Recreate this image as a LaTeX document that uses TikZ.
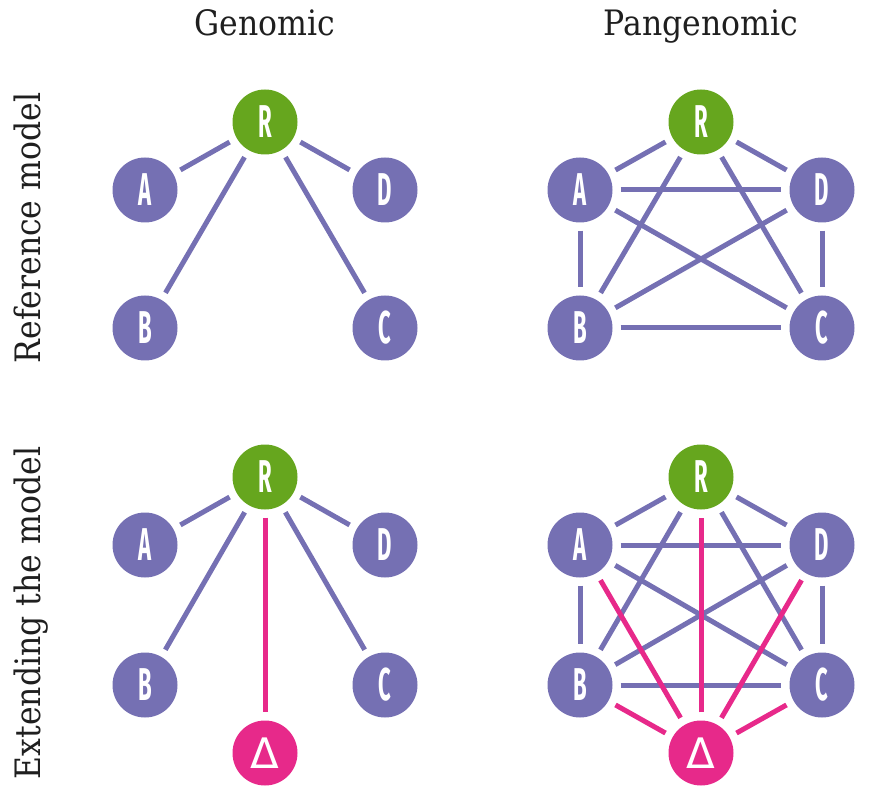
\documentclass[tikz,border=0pt]{standalone}
\usepackage{fontspec}
\setmainfont{DejaVu Serif}[FakeStretch=0.9]
\newfontfamily\lblfont[FakeStretch=0.48]{Fira Sans}
\newfontfamily\deltafont{DejaVu Sans}
\definecolor{lilac}{HTML}{7570B3}
\definecolor{leaf}{HTML}{66A61E}
\definecolor{rose}{HTML}{E7298A}

\begin{document}
\begin{tikzpicture}
[ x=1pt, y=-1pt
, heading/.style={font=\fontsize{35}{40}\selectfont, text=black!88, anchor=base}
, sample/.style={circle, fill=lilac, minimum size=65pt, inner sep=0pt, text=white, font=\lblfont\bfseries\fontsize{46}{46}\selectfont}
, reference/.style={sample, fill=leaf}
, delta/.style={sample, fill=rose, font=\deltafont\fontsize{42}{42}\selectfont}
, link/.style={line width=5pt, lilac, shorten <=8pt, shorten >=8pt}
, newlink/.style={link, rose}
]
\useasboundingbox (0,0) rectangle (870,799);

% Headings:
\node (genomic) [heading] at (265,36) {Genomic};
\node (pangenomic) [heading] at (701,36) {Pangenomic};
\node (refrow) [heading, rotate=90] at (40,228) {Reference model};
\node (extrow) [heading, rotate=90] at (40,613) {Extending the model};

% Top left: genomic reference
\node (R1) [reference] at (265,122) {R};
\node (A1) [sample] at (145,190) {A};
\node (D1) [sample] at (385,190) {D};
\node (B1) [sample] at (145,328) {B};
\node (C1) [sample] at (385,328) {C};
\draw [link] (R1) -- (A1);
\draw [link] (R1) -- (D1);
\draw [link] (R1) -- (B1);
\draw [link] (R1) -- (C1);

% Top right: pangenomic reference
\node (R2) [reference] at (701,122) {R};
\node (A2) [sample] at (580,190) {A};
\node (D2) [sample] at (822,190) {D};
\node (B2) [sample] at (580,328) {B};
\node (C2) [sample] at (822,328) {C};
\draw [link] (R2) -- (A2);
\draw [link] (R2) -- (D2);
\draw [link] (R2) -- (B2);
\draw [link] (R2) -- (C2);
\draw [link] (A2) -- (D2);
\draw [link] (A2) -- (B2);
\draw [link] (A2) -- (C2);
\draw [link] (D2) -- (B2);
\draw [link] (D2) -- (C2);
\draw [link] (B2) -- (C2);

% Bottom left: genomic, extended
\node (R3) [reference] at (265,477) {R};
\node (A3) [sample] at (145,545) {A};
\node (D3) [sample] at (385,545) {D};
\node (B3) [sample] at (145,685) {B};
\node (C3) [sample] at (385,685) {C};
\node (X3) [delta] at (265,753) {Δ};
\draw [link] (R3) -- (A3);
\draw [link] (R3) -- (D3);
\draw [link] (R3) -- (B3);
\draw [link] (R3) -- (C3);
\draw [newlink] (R3) -- (X3);

% Bottom right: pangenomic, extended
\node (R4) [reference] at (701,477) {R};
\node (A4) [sample] at (580,545) {A};
\node (D4) [sample] at (822,545) {D};
\node (B4) [sample] at (580,685) {B};
\node (C4) [sample] at (822,685) {C};
\node (X4) [delta] at (701,753) {Δ};
\draw [link] (R4) -- (A4);
\draw [link] (R4) -- (D4);
\draw [link] (R4) -- (B4);
\draw [link] (R4) -- (C4);
\draw [link] (A4) -- (D4);
\draw [link] (A4) -- (B4);
\draw [link] (A4) -- (C4);
\draw [link] (D4) -- (B4);
\draw [link] (D4) -- (C4);
\draw [link] (B4) -- (C4);
\draw [newlink] (X4) -- (R4);
\draw [newlink] (X4) -- (A4);
\draw [newlink] (X4) -- (D4);
\draw [newlink] (X4) -- (B4);
\draw [newlink] (X4) -- (C4);
\end{tikzpicture}
\end{document}
